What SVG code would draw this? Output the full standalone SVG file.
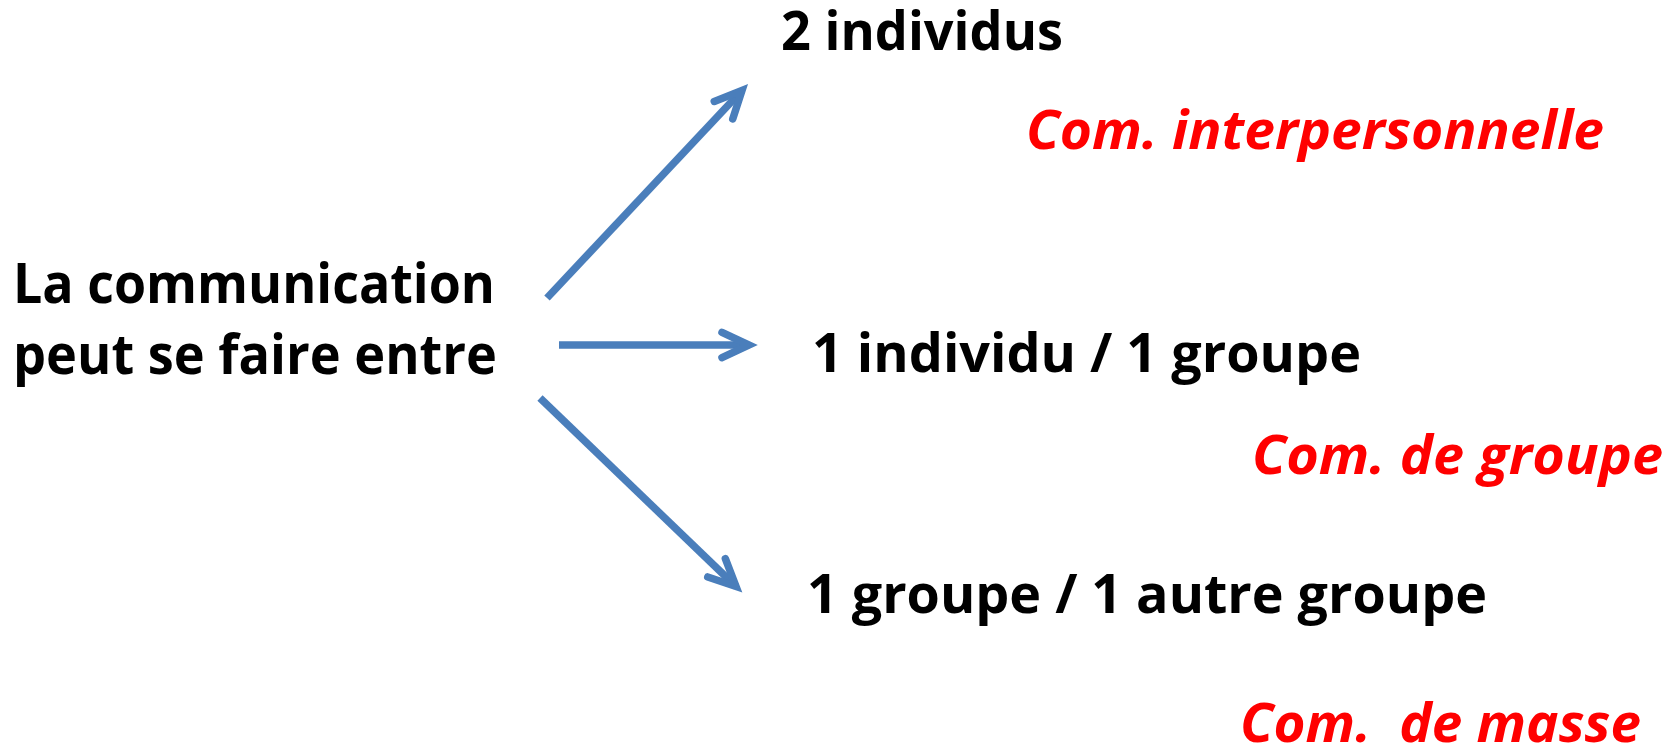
<svg xmlns="http://www.w3.org/2000/svg" width="1677" height="750" viewBox="0 0 1677 750">
<style>
.blk{font-family:"Open Sans","Liberation Sans",sans-serif;font-weight:bold;font-size:53px;fill:#000}
.big{font-size:55px}
.red{font-family:"Open Sans","Liberation Sans",sans-serif;font-weight:bold;font-style:italic;font-size:54px;fill:#FF0000;white-space:pre}
.arr{stroke:#4A7EBB;stroke-width:7.5;fill:none;stroke-linecap:butt}
</style>
<defs>
<marker id="head" markerUnits="userSpaceOnUse" viewBox="-40 -25 50 50" refX="0" refY="0" markerWidth="50" markerHeight="50" orient="auto" overflow="visible">
<path d="M -27 -12.7 L 0 0 L -27 12.7" fill="none" stroke="#4A7EBB" stroke-width="7.5" stroke-linecap="round" stroke-linejoin="miter" stroke-miterlimit="10"/>
</marker>
</defs>
<rect width="1677" height="750" fill="#FFFFFF"/>
<g id="connectors">
<line class="arr" x1="547" y1="298" x2="742" y2="90.5" marker-end="url(#head)"/>
<line class="arr" x1="559" y1="345" x2="749" y2="345" marker-end="url(#head)"/>
<line class="arr" x1="540" y1="398" x2="736" y2="586.5" marker-end="url(#head)"/>
</g>
<g id="source">
<text class="blk big" x="13" y="303" textLength="482" lengthAdjust="spacingAndGlyphs">La communication</text>
<text class="blk big" x="13" y="374" textLength="484" lengthAdjust="spacingAndGlyphs">peut se faire entre</text>
</g>
<g id="node-2-individus">
<text class="blk" x="781" y="50" textLength="282" lengthAdjust="spacingAndGlyphs">2 individus</text>
</g>
<g id="label-interpersonnelle">
<text class="red" x="1026" y="149" textLength="578" lengthAdjust="spacingAndGlyphs">Com. interpersonnelle</text>
</g>
<g id="node-individu-groupe">
<text class="blk" x="812" y="372" textLength="549" lengthAdjust="spacingAndGlyphs">1 individu / 1 groupe</text>
</g>
<g id="label-groupe">
<text class="red" x="1252" y="474" textLength="411" lengthAdjust="spacingAndGlyphs">Com. de groupe</text>
</g>
<g id="node-groupe-groupe">
<text class="blk" x="807" y="613" textLength="680" lengthAdjust="spacingAndGlyphs">1 groupe / 1 autre groupe</text>
</g>
<g id="label-masse">
<text class="red" x="1240" y="742" textLength="401" lengthAdjust="spacingAndGlyphs" xml:space="preserve">Com.  de masse</text>
</g>
</svg>
